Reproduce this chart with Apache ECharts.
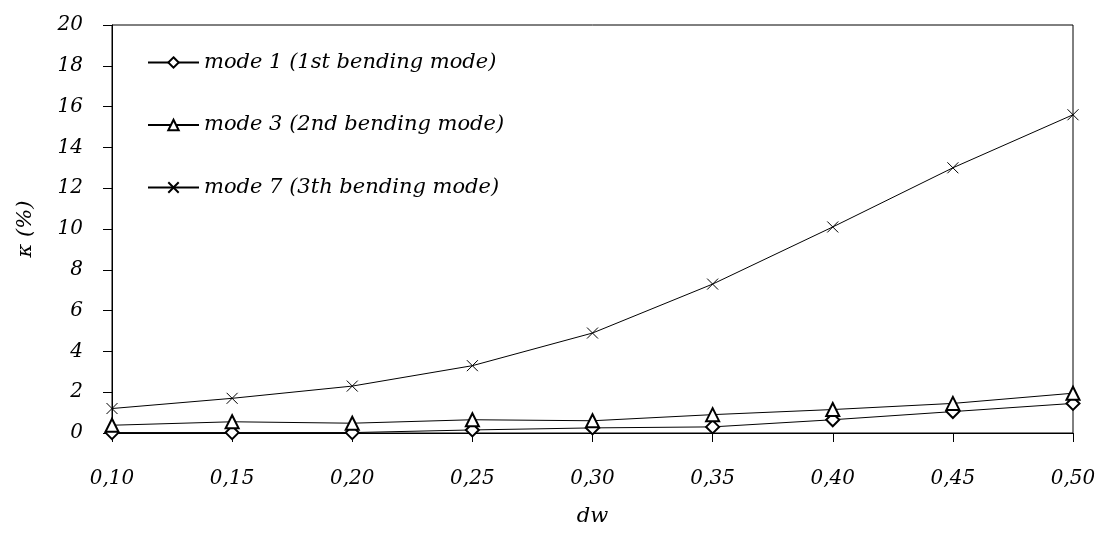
<!DOCTYPE html>
<html>
<head>
<meta charset="utf-8">
<script src="https://cdn.jsdelivr.net/npm/echarts@6/dist/echarts.min.js"></script>
<style>
  html, body { margin: 0; padding: 0; background: #fff; }
  #chart { width: 1101px; height: 543px; }
</style>
</head>
<body>
<div id="chart"></div>
<script>
const dwLabels = ['0,10', '0,15', '0,20', '0,25', '0,30', '0,35', '0,40', '0,45', '0,50']
const yTicks = [0, 2, 4, 6, 8, 10, 12, 14, 16, 18, 20]

const mode1 = [0.02, 0.02, 0.02, 0.15, 0.25, 0.3, 0.65, 1.05, 1.45]
const mode3 = [0.38, 0.55, 0.48, 0.65, 0.6, 0.9, 1.15, 1.45, 1.95]
const mode7 = [1.2, 1.7, 2.3, 3.3, 4.9, 7.3, 10.1, 13.0, 15.6]

const font = '"DejaVu Serif", "Liberation Serif", serif'
const crossPath = 'path://M0,0L10,10M10,0L0,10'

const chart = echarts.init(document.getElementById('chart'))

const makeSeries = (name, data, symbol, size) => ({
  name,
  type: 'line',
  data,
  symbol,
  symbolSize: size,
  showAllSymbol: true,
  lineStyle: { color: '#000', width: 1 },
  itemStyle: { color: '#000', borderColor: '#000', borderWidth: 1 },
  emphasis: { disabled: true },
  animation: false
})

chart.setOption({
  backgroundColor: '#fff',
  textStyle: { fontFamily: font },
  grid: {
    left: 112,
    right: 28,
    top: 25,
    bottom: 110,
    show: true,
    borderColor: '#000',
    borderWidth: 1
  },
  legend: {
    orient: 'vertical',
    left: 147,
    top: 50,
    padding: 0,
    itemWidth: 51,
    itemHeight: 13,
    itemGap: 37.5,
    textStyle: { fontFamily: font, fontStyle: 'italic', fontSize: 21, lineHeight: 25, color: '#000' },
    data: ['mode 1 (1st bending mode)', 'mode 3 (2nd bending mode)', 'mode 7 (3th bending mode)']
  },
  xAxis: {
    type: 'category',
    boundaryGap: false,
    data: dwLabels,
    name: 'dw',
    nameLocation: 'middle',
    nameGap: 73,
    nameTextStyle: { fontFamily: font, fontStyle: 'italic', fontSize: 21, color: '#000' },
    axisLine: { lineStyle: { color: '#000', width: 1 } },
    axisTick: { show: true, inside: false, length: 9, alignWithLabel: true, lineStyle: { color: '#000' } },
    axisLabel: { fontFamily: font, fontStyle: 'italic', fontSize: 20, color: '#000', margin: 36 },
    splitLine: { show: false }
  },
  yAxis: {
    type: 'value',
    min: yTicks[0],
    max: yTicks[yTicks.length - 1],
    interval: 2,
    name: 'κ (%)',
    nameLocation: 'middle',
    nameGap: 76,
    nameRotate: 90,
    nameTextStyle: { fontFamily: font, fontStyle: 'italic', fontSize: 21, color: '#000' },
    axisLine: { show: true, lineStyle: { color: '#000', width: 1 } },
    axisTick: { show: true, length: 9, lineStyle: { color: '#000' } },
    axisLabel: { fontFamily: font, fontStyle: 'italic', fontSize: 20, color: '#000', margin: 29 },
    splitLine: { show: false }
  },
  series: [
    makeSeries('mode 1 (1st bending mode)', mode1, 'emptyDiamond', 13),
    makeSeries('mode 3 (2nd bending mode)', mode3, 'emptyTriangle', 13),
    makeSeries('mode 7 (3th bending mode)', mode7, crossPath, 11)
  ]
})
</script>
</body>
</html>
